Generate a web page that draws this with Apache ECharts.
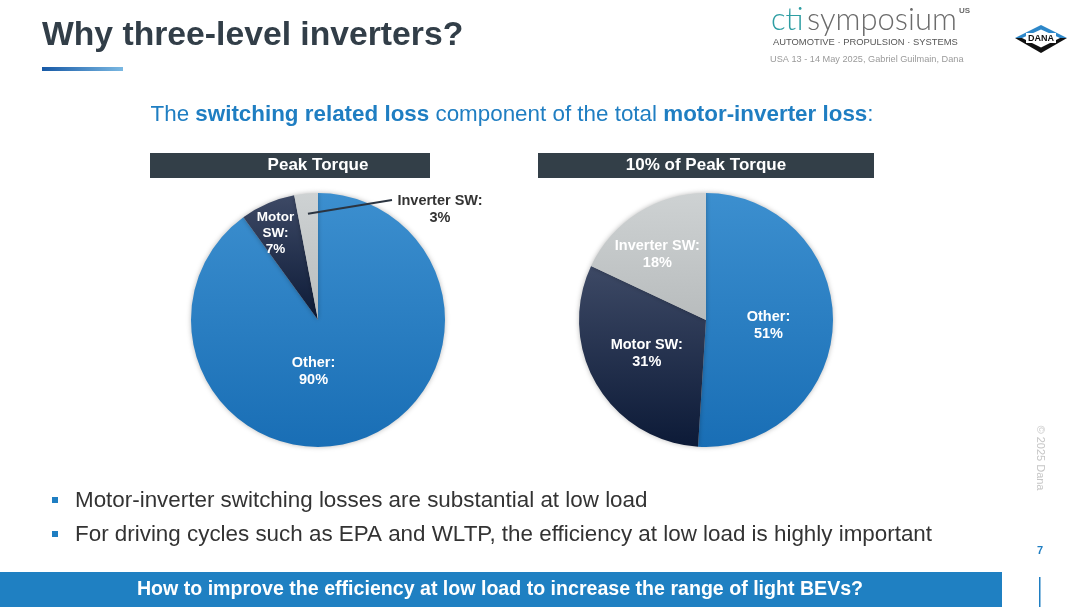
<!DOCTYPE html>
<html>
<head>
<meta charset="utf-8">
<script src="https://cdn.jsdelivr.net/npm/echarts@6/dist/echarts.min.js"></script>
<style>
  html, body { margin: 0; padding: 0; background: #fff; }
  #chart { width: 1080px; height: 607px; }
</style>
</head>
<body>
<div id="chart"></div>
<script>
// data
const categories = ["Other", "Motor SW", "Inverter SW"];
const peakTorqueValues = [90, 7, 3];
const lowTorqueValues = [51, 31, 18];
const pieTitles = ["Peak Torque", "10% of Peak Torque"];
const bulletTexts = [
  "Motor-inverter switching losses are substantial at low load",
  "For driving cycles such as EPA and WLTP, the efficiency at low load is highly important"
];
const bannerText = "How to improve the efficiency at low load to increase the range of light BEVs?";

const FONT = "Liberation Sans, Arial, sans-serif";
const BLUE = "#1f7ec2";
const PIE_R = 127;
const PIE_Y = 320;
const PIE_X = [318, 706];

function grad(top, bottom) {
  return new echarts.graphic.LinearGradient(0, 0, 0, 1, [
    { offset: 0, color: top },
    { offset: 1, color: bottom }
  ]);
}
const sliceColors = [
  grad("#3c8fcf", "#196eb5"),
  grad("#3d4965", "#0c1a37"),
  grad("#ced2d3", "#b8bcbd")
];

// nudges for the inside labels so they sit where the slide has them
const labelNudge = [
  [[-25, -12], [-16, -26], null],
  [[-4, 3], [-2, 0], [-13, -9]]
];

function buildData(values, seriesIdx) {
  return values.map((v, i) => {
    const item = {
      name: categories[i],
      value: v,
      itemStyle: { color: sliceColors[i] }
    };
    if (seriesIdx === 0 && i === 1) {
      item.label = { formatter: "Motor\nSW:\n{c}%", fontSize: 13.5, lineHeight: 16 };
    }
    if (seriesIdx === 0 && i === 2) {
      item.label = { position: "outside", color: "#333" };
    }
    return item;
  });
}

function pieSeries(values, idx) {
  return {
    type: "pie",
    center: [PIE_X[idx], PIE_Y],
    radius: PIE_R,
    startAngle: 90,
    clockwise: true,
    silent: true,
    animation: false,
    label: {
      show: true,
      position: "inside",
      color: "#fff",
      fontFamily: FONT,
      fontWeight: "bold",
      fontSize: 14.5,
      lineHeight: 17,
      formatter: "{b}:\n{c}%"
    },
    labelLine: { show: false },
    labelLayout: function (p) {
      if (idx === 0 && p.dataIndex === 2) {
        return { x: 440, y: 209, align: "center", verticalAlign: "middle" };
      }
      const n = labelNudge[idx][p.dataIndex];
      return n ? { dx: n[0], dy: n[1] } : {};
    },
    itemStyle: {
      shadowBlur: 5,
      shadowColor: "rgba(0,0,0,0.28)"
    },
    data: buildData(values, idx)
  };
}

// leader line for the small "Inverter SW" slice on the first pie:
// anchored inside the slice at its mid angle, computed from the values
function leaderStart(values, index) {
  const total = values.reduce((a, b) => a + b, 0);
  const before = values.slice(0, index).reduce((a, b) => a + b, 0);
  const ang = (before + values[index] / 2) / total * 2 * Math.PI;
  const r = PIE_R * 0.84;
  return [PIE_X[0] + Math.sin(ang) * r, PIE_Y - Math.cos(ang) * r];
}
const ls = leaderStart(peakTorqueValues, 2);

const chart = echarts.init(document.getElementById("chart"));

const graphics = [
  // page title
  {
    type: "text", left: 42, top: 19,
    style: { text: "Why three-level inverters?", fill: "#323e48", font: "bold 33.7px " + FONT }
  },
  {
    type: "rect", shape: { x: 42, y: 67, width: 81, height: 4 },
    style: {
      fill: new echarts.graphic.LinearGradient(0, 0, 1, 0, [
        { offset: 0, color: "#1759a6" },
        { offset: 1, color: "#7ab8e2" }
      ])
    }
  },
  // cti symposium logo
  {
    type: "text", left: 771, top: 4,
    style: {
      text: "{c|cti} {s|symposium}",
      rich: {
        c: { fill: "#2e9ea3", fontSize: 31, fontFamily: "Lato", fontWeight: 300 },
        s: { fill: "#6b6b6b", fontSize: 31, fontFamily: "Lato", fontWeight: 300 }
      }
    }
  },
  {
    type: "text", left: 959, top: 7,
    style: { text: "US", fill: "#6b6b6b", font: "bold 8px " + FONT }
  },
  {
    type: "text", left: 773, top: 38,
    style: { text: "AUTOMOTIVE · PROPULSION · SYSTEMS", fill: "#555", font: "9.4px " + FONT }
  },
  {
    type: "text", left: 770, top: 55,
    style: { text: "USA 13 - 14 May 2025, Gabriel Guilmain, Dana", fill: "#9a9a9a", font: "9.2px " + FONT }
  },
  // DANA diamond
  {
    type: "polygon", shape: { points: [[1015, 38], [1041, 25], [1067, 38]] },
    style: { fill: "#2d87c9" }
  },
  {
    type: "polygon", shape: { points: [[1015, 38], [1067, 38], [1041, 53]] },
    style: { fill: "#111" }
  },
  {
    type: "polygon", shape: { points: [[1022, 38], [1041, 29.5], [1060, 38], [1041, 47.5]] },
    style: { fill: "#fff" }
  },
  {
    type: "rect", shape: { x: 1026, y: 33, width: 30, height: 10 },
    style: { fill: "#fff" }
  },
  {
    type: "text", x: 1041, y: 38.5,
    style: { text: "DANA", fill: "#111", font: "bold 9px " + FONT, align: "center", verticalAlign: "middle" }
  },
  // subtitle
  {
    type: "text", x: 512, y: 115,
    style: {
      text: "{a|The }{b|switching related loss}{a| component of the total }{b|motor-inverter loss}{a|:}",
      align: "center", verticalAlign: "middle",
      rich: {
        a: { fill: BLUE, fontSize: 22.4, fontFamily: FONT },
        b: { fill: BLUE, fontSize: 22.4, fontFamily: FONT, fontWeight: "bold" }
      }
    }
  },
  // pie headers
  { type: "rect", shape: { x: 150, y: 153, width: 280, height: 25 }, style: { fill: "#333f48" } },
  {
    type: "text", x: 318, y: 165.5,
    style: { text: pieTitles[0], fill: "#fff", font: "bold 17px " + FONT, align: "center", verticalAlign: "middle" }
  },
  { type: "rect", shape: { x: 538, y: 153, width: 336, height: 25 }, style: { fill: "#333f48" } },
  {
    type: "text", x: 706, y: 165.5,
    style: { text: pieTitles[1], fill: "#fff", font: "bold 17px " + FONT, align: "center", verticalAlign: "middle" }
  },
  // leader line
  {
    type: "line", z: 10,
    shape: { x1: ls[0], y1: ls[1], x2: 392, y2: 200 },
    style: { stroke: "#2b3440", lineWidth: 2 }
  },
  // side notes
  {
    type: "text", x: 1040, y: 458, rotation: -Math.PI / 2,
    style: { text: "© 2025 Dana", fill: "#c6c6c6", font: "11px " + FONT, align: "center", verticalAlign: "middle" }
  },
  {
    type: "text", x: 1040, y: 551,
    style: { text: "7", fill: BLUE, font: "bold 11px " + FONT, align: "center", verticalAlign: "middle" }
  },
  { type: "rect", shape: { x: 1039, y: 577, width: 1.5, height: 30 }, style: { fill: BLUE } },
  // banner
  { type: "rect", shape: { x: 0, y: 572, width: 1002, height: 35 }, style: { fill: "#1f80c2" } },
  {
    type: "text", x: 500, y: 590,
    style: { text: bannerText, fill: "#fff", font: "bold 19.6px " + FONT, align: "center", verticalAlign: "middle" }
  }
];

bulletTexts.forEach((t, i) => {
  const y = 501 + i * 34;
  graphics.push({ type: "rect", shape: { x: 52, y: y - 4, width: 6, height: 6 }, style: { fill: BLUE } });
  graphics.push({
    type: "text", x: 75, y: y,
    style: { text: t, fill: "#333", font: "22.4px " + FONT, verticalAlign: "middle" }
  });
});

chart.setOption({
  backgroundColor: "#fff",
  animation: false,
  graphic: graphics,
  series: [
    pieSeries(peakTorqueValues, 0),
    pieSeries(lowTorqueValues, 1)
  ]
});
</script>
</body>
</html>
